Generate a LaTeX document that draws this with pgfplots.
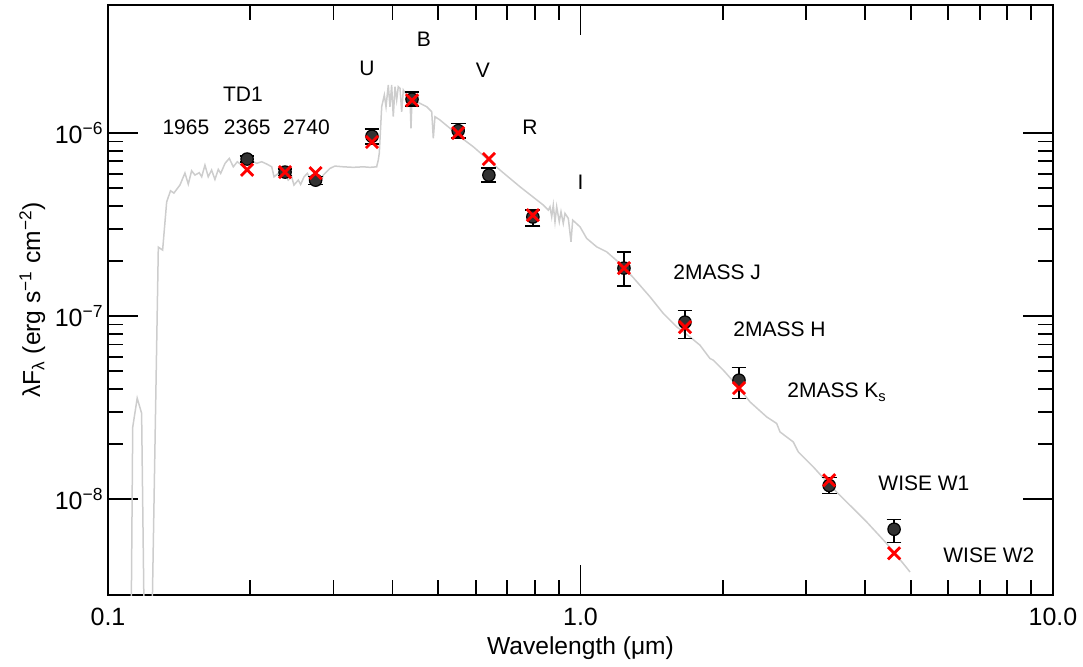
\documentclass[border=0pt]{standalone}
\usepackage{fontspec}
\setmainfont{Liberation Sans}
\usepackage{pgfplots}
\usepackage{pgfplotstable}
\pgfplotsset{compat=1.18}

\pgfplotstableread{
x y
0.1117 1e-9
0.1128 2.474e-8
0.1153 3.565e-8
0.1178 2.951e-8
0.1197 1e-9
0.1233 1e-9
0.1278 2.382e-7
0.1305 2.296e-7
0.1331 4.198e-7
0.1356 4.84e-7
0.1379 4.70e-7
0.1420 5.20e-7
0.1455 6.045e-7
0.1479 5.26e-7
0.1503 6.22e-7
0.1528 5.896e-7
0.1560 6.07e-7
0.1579 5.77e-7
0.1604 6.68e-7
0.1630 5.77e-7
0.1657 6.28e-7
0.1684 5.58e-7
0.1712 6.33e-7
0.1732 6.02e-7
0.1769 6.83e-7
0.1806 7.27e-7
0.1842 6.54e-7
0.1878 6.97e-7
0.1931 6.60e-7
0.1998 7.12e-7
0.2064 6.83e-7
0.2115 6.97e-7
0.2168 6.77e-7
0.2221 6.54e-7
0.2246 5.77e-7
0.2293 6.02e-7
0.2350 6.28e-7
0.2407 5.535e-7
0.2447 5.77e-7
0.2475 5.20e-7
0.2528 5.535e-7
0.2557 5.24e-7
0.2600 5.77e-7
0.2642 6.02e-7
0.2677 5.655e-7
0.2720 5.77e-7
0.2765 5.42e-7
0.2810 5.20e-7
0.2856 5.896e-7
0.2950 6.41e-7
0.3022 6.60e-7
0.3148 6.54e-7
0.3305 6.495e-7
0.3470 6.54e-7
0.3584 6.495e-7
0.3704 6.54e-7
0.3733 7.12e-7
0.3752 7.77e-7
0.3796 1.392e-6
0.3845 1.613e-6
0.3877 1.392e-6
0.3920 1.829e-6
0.3952 1.392e-6
0.3985 1.829e-6
0.4016 1.228e-6
0.4050 1.791e-6
0.4083 1.514e-6
0.4115 1.791e-6
0.4150 1.755e-6
0.4184 1.307e-6
0.4217 1.718e-6
0.4287 1.613e-6
0.4357 1.547e-6
0.4378 1.061e-6
0.4399 1.514e-6
0.4574 1.453e-6
0.4726 1.392e-6
0.4843 1.307e-6
0.4881 9.355e-7
0.4921 1.228e-6
0.5043 1.178e-6
0.5295 1.061e-6
0.5559 9.546e-7
0.5931 8.415e-7
0.6330 7.27e-7
0.6755 6.28e-7
0.7446 5.09e-7
0.8344 4.042e-7
0.8548 3.795e-7
0.8619 3.956e-7
0.8691 3.488e-7
0.8759 4.042e-7
0.8832 3.276e-7
0.8905 3.956e-7
0.9018 3.276e-7
0.9094 3.715e-7
0.9196 3.211e-7
0.9273 3.641e-7
0.9423 3.42e-7
0.9548 2.547e-7
0.9627 3.346e-7
0.9976 3.076e-7
1.0307 2.658e-7
1.0821 2.391e-7
1.1360 2.245e-7
1.2121 1.941e-7
1.2934 1.623e-7
1.4032 1.275e-7
1.4970 1.035e-7
1.5981 8.74e-8
1.7051 7.70e-8
1.7905 6.94e-8
1.8792 5.873e-8
1.9099 5.75e-8
2.0057 5.07e-8
2.1410 4.198e-8
2.2849 3.40e-8
2.4778 2.817e-8
2.6017 2.593e-8
2.6441 2.332e-8
2.8205 2.056e-8
2.8907 1.814e-8
3.1103 1.502e-8
3.3729 1.192e-8
3.6592 9.665e-9
4.0343 7.516e-9
4.4463 5.73e-9
4.8225 4.45e-9
4.9830 4.006e-9
}\modeltable

\pgfplotstableread{
x y ep em
0.197 7.21e-7 0.28e-7 0.27e-7
0.237 6.12e-7 0.25e-7 0.25e-7
0.275 5.53e-7 0.28e-7 0.28e-7
0.362 9.60e-7 0.90e-7 0.89e-7
0.440 1.53e-6 0.145e-6 0.125e-6
0.551 1.03e-6 0.10e-6 0.09e-6
0.640 5.89e-7 0.55e-7 0.49e-7
0.793 3.48e-7 0.31e-7 0.38e-7
1.236 1.83e-7 0.41e-7 0.37e-7
1.664 9.27e-8 1.5e-8 1.7e-8
2.165 4.47e-8 0.78e-8 0.91e-8
3.36 1.19e-8 0.125e-8 0.115e-8
4.61 6.86e-9 0.91e-9 1.05e-9
}\obstable

\pgfplotstableread{
x y
0.197 6.3e-7
0.237 6.12e-7
0.275 6.04e-7
0.362 8.93e-7
0.440 1.51e-6
0.551 1.00e-6
0.640 7.21e-7
0.793 3.56e-7
1.236 1.83e-7
1.664 8.71e-8
2.165 4.05e-8
3.36 1.27e-8
4.61 5.07e-9
}\synthtable

\begin{document}
\fontsize{10.5}{12.6}\selectfont
\begin{tikzpicture}[every node/.style={font=\fontsize{10.5}{12.6}\selectfont}]
\path[use as bounding box] (-54pt,-35.5pt) rectangle (487.5pt,297.5pt);
\begin{axis}[
  at={(0,0)}, anchor=south west,
  scale only axis,
  width=472.5pt, height=295pt,
  xmode=log, ymode=log,
  xmin=0.1, xmax=10, ymin=3e-9, ymax=5e-6,
  axis line style={line width=1pt},
  tick style={line width=0.9pt, black},
  major tick length=15pt,
  minor tick length=7.5pt,
  tick align=inside,
  xtick={0.1,1,10},
  xticklabels={0.1,1.0,10.0},
  ytick={1e-8,1e-7,1e-6},
  yticklabels={10\textsuperscript{−8},10\textsuperscript{−7},10\textsuperscript{−6}},
  /pgf/number format/assume math mode=true,
  tick label style={font=\fontsize{12.5}{15}\selectfont},
  xticklabel style={yshift=-3pt},
  yticklabel style={inner sep=2pt},
  label style={font=\fontsize{12.3}{15}\selectfont},
  xlabel={Wavelength (μm)},
  ylabel={λF\textsubscript{λ}\ (erg s\textsuperscript{−1} cm\textsuperscript{−2})},
  xlabel style={at={(axis description cs:0.5,-0.09)}, anchor=center},
  ylabel style={at={(axis description cs:-0.08,0.5)}, anchor=center},
  clip=true,
]
\addplot[color={rgb,255:red,205;green,205;blue,205}, line width=0.75pt, no marks] table[x=x,y=y] {\modeltable};

\addplot[only marks, mark=*, mark size=3.1pt, mark options={fill={rgb,255:red,50;green,50;blue,50}, draw=black, line width=0.6pt},
  error bars/.cd, y dir=both, y explicit,
  error bar style={line width=0.7pt, black},
  error mark options={line width=0.7pt, black, mark size=3.7pt, rotate=90}]
  table[x=x, y=y, y error plus=ep, y error minus=em] {\obstable};

\addplot[only marks, mark=x, mark size=4.3pt, mark options={draw=red, line width=1.4pt}] table[x=x,y=y] {\synthtable};

\node at (axis cs:0.1462,1.078e-6) {1965};
\node at (axis cs:0.1972,1.078e-6) {2365};
\node at (axis cs:0.263,1.078e-6) {2740};
\node at (axis cs:0.193,1.633e-6) {TD1};
\node at (axis cs:0.3533,2.265e-6) {U};
\node at (axis cs:0.4664,3.264e-6) {B};
\node at (axis cs:0.6217,2.21e-6) {V};
\node at (axis cs:0.782,1.078e-6) {R};
\node at (axis cs:1.0,5.40e-7) {I};
\node[anchor=west, inner sep=0pt] at (axis cs:1.570,1.739e-7) {2MASS J};
\node[anchor=west, inner sep=0pt] at (axis cs:2.102,8.49e-8) {2MASS H};
\node[anchor=west, inner sep=0pt] at (axis cs:2.735,3.842e-8) {2MASS K\textsubscript{s}};
\node[anchor=west, inner sep=0pt] at (axis cs:4.263,1.223e-8) {WISE W1};
\node[anchor=west, inner sep=0pt] at (axis cs:5.851,4.94e-9) {WISE W2};
\end{axis}
\end{tikzpicture}
\end{document}
